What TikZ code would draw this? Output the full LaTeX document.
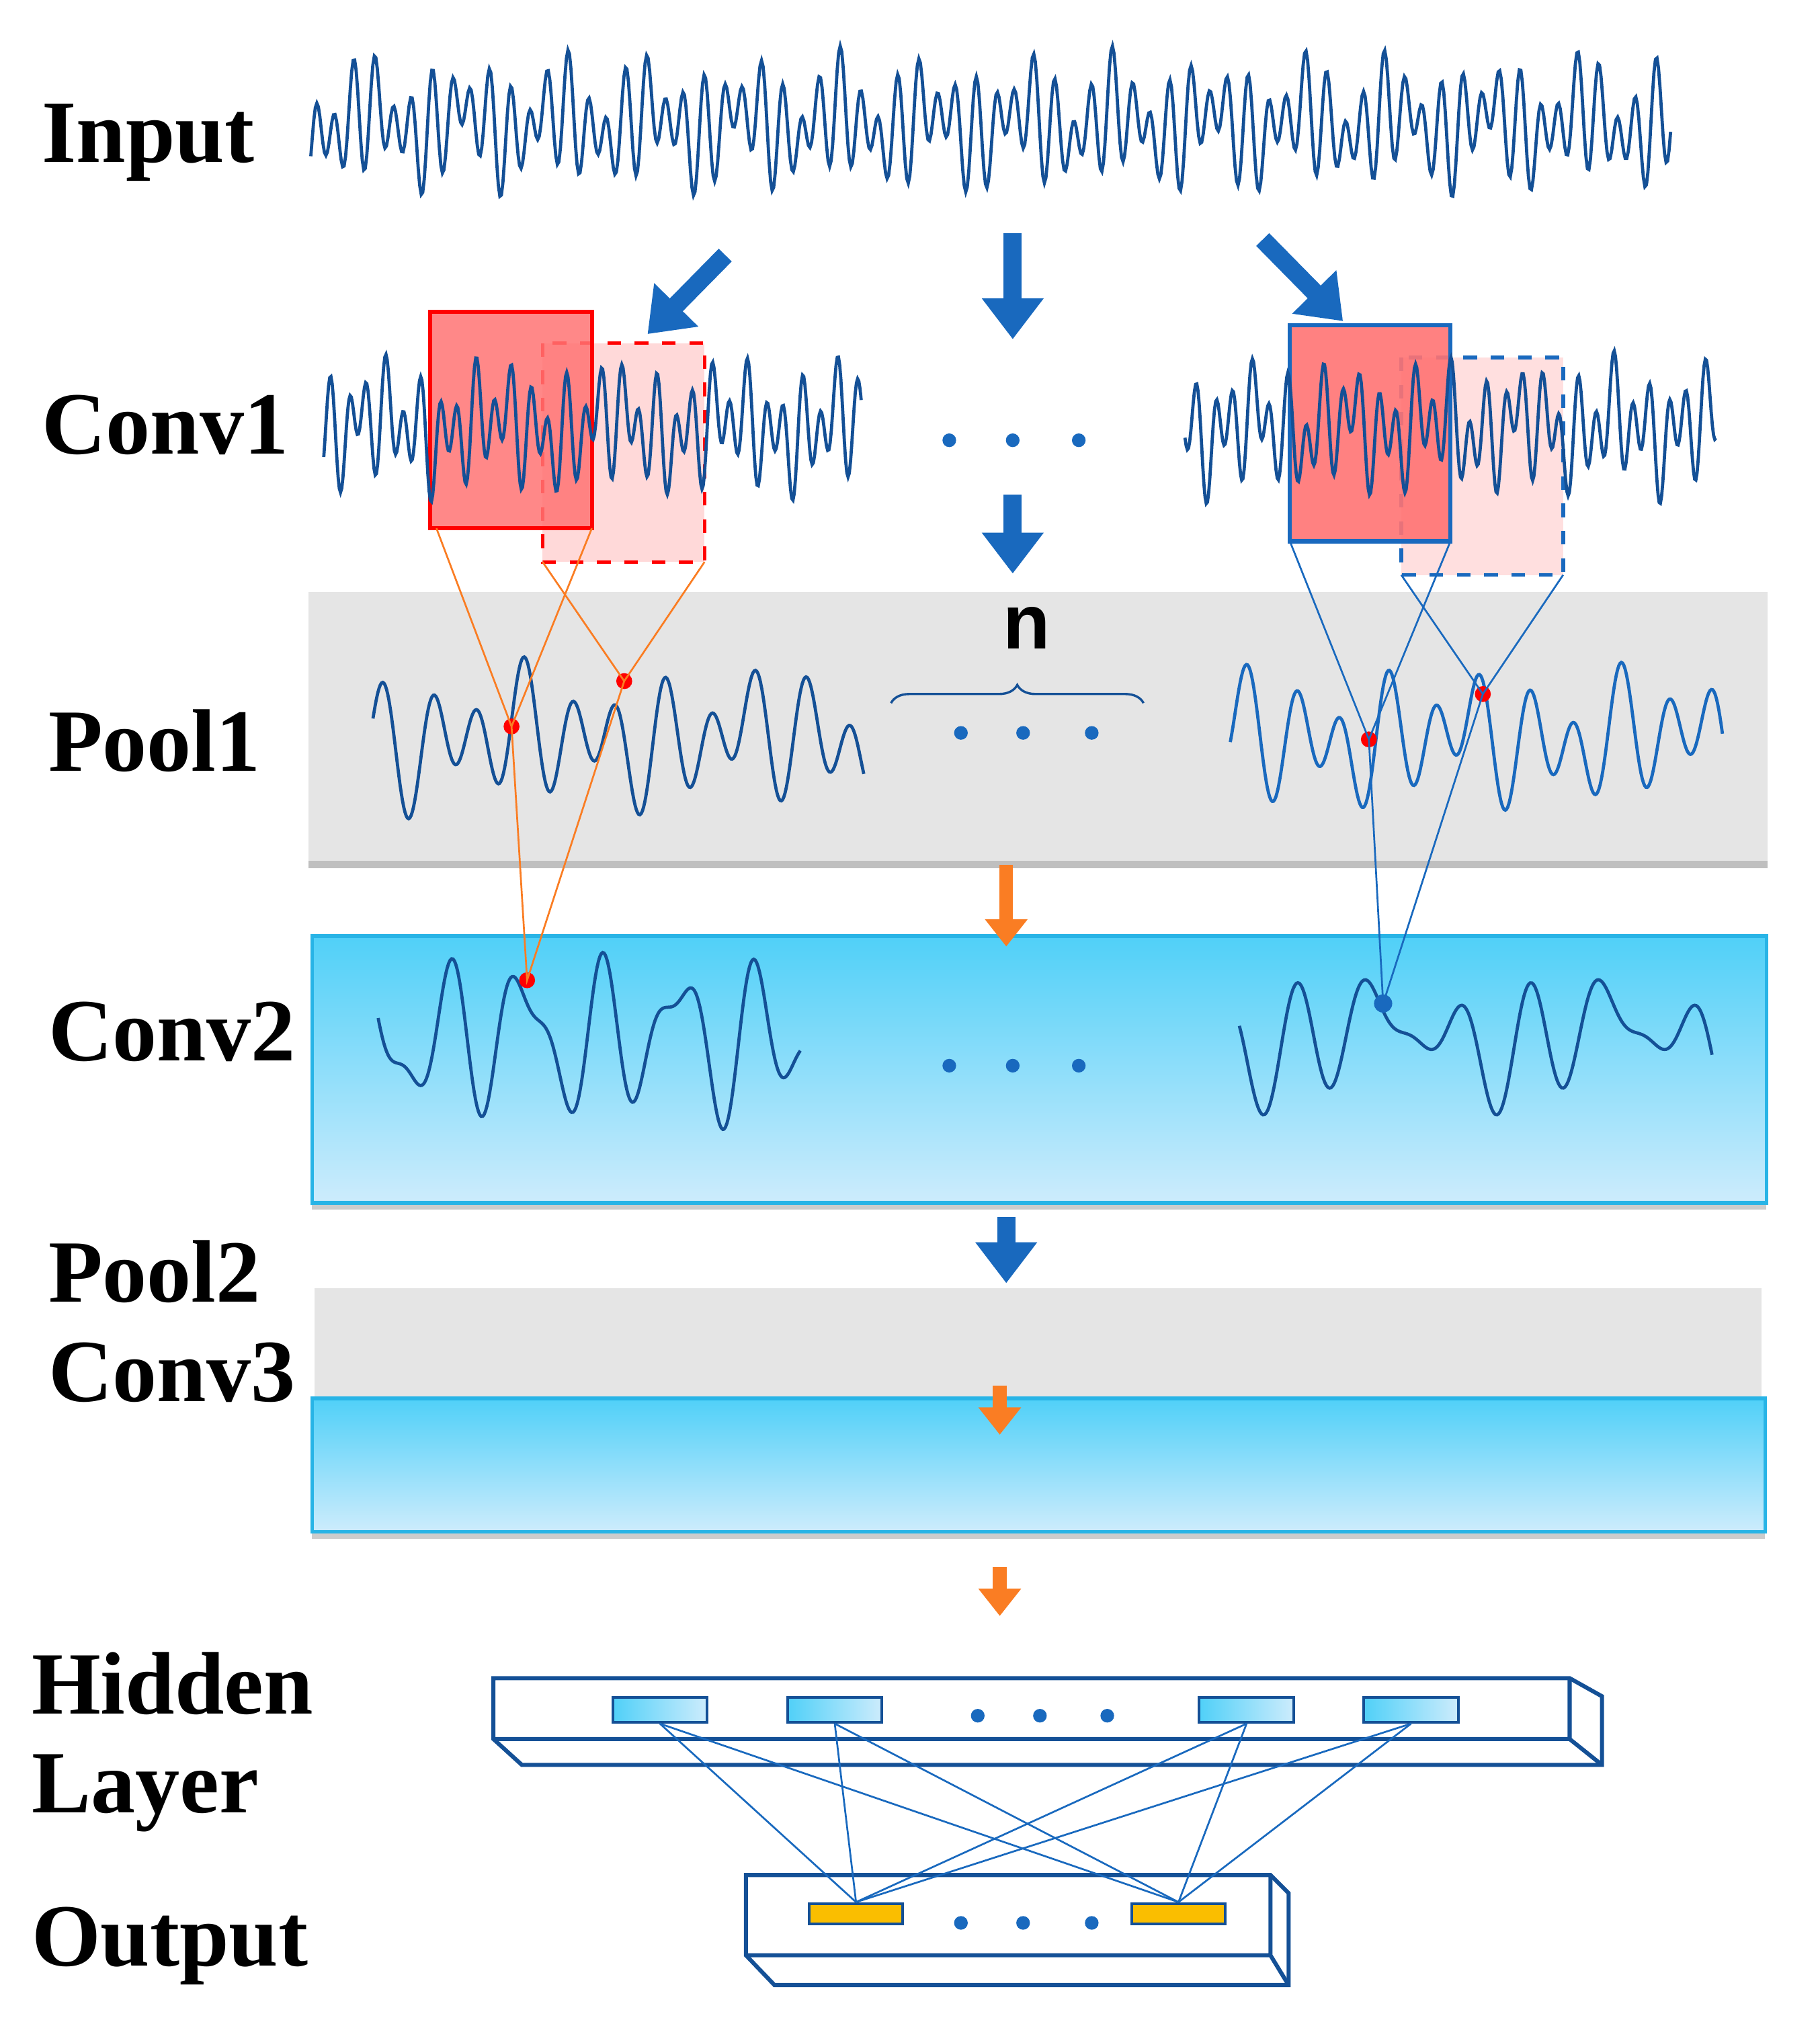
\documentclass[tikz,border=0pt]{standalone}
\usepackage{fontspec}
\setmainfont{Liberation Serif}
\newfontfamily\sansf{Liberation Sans}
\usetikzlibrary{arrows.meta,decorations.pathreplacing,shadows}
\definecolor{wblue}{RGB}{20,80,150}
\definecolor{ablue}{RGB}{25,105,190}
\definecolor{aorange}{RGB}{250,125,35}
\definecolor{cyanA}{RGB}{80,208,248}
\definecolor{cyanB}{RGB}{205,236,252}
\definecolor{cyanE}{RGB}{40,180,230}
\definecolor{ocol}{RGB}{250,190,0}
\tikzset{
 declare function={sn(\t,\p)=sin(mod(\t,\p)*(360/\p));},
 lab/.style={font=\fontsize{19.5}{22}\selectfont\bfseries, anchor=west},
 wave/.style={wblue, line width=0.7pt},
 barrow/.style={ablue, line width=4pt, -{Triangle[width=13pt,length=9pt]}},
 oarrow/.style={aorange, line width=3pt, -{Triangle[width=9pt,length=6pt]}},
 dot/.style={circle, fill=ablue, inner sep=0pt, minimum size=3pt},
 rdot/.style={circle, fill=red, inner sep=0pt, minimum size=3.5pt},
 gband/.style={fill=black!10, draw=none, drop shadow={shadow xshift=0pt,shadow yshift=-1.5pt,opacity=0.5}},
 cband/.style={top color=cyanA, bottom color=cyanB, draw=cyanE, line width=0.8pt, drop shadow={shadow xshift=0pt,shadow yshift=-1.5pt,opacity=0.4}},
 cell/.style={draw=wblue, line width=0.6pt, left color=cyanA, right color=cyanB},
 ocell/.style={draw=wblue, line width=0.6pt, fill=ocol},
 thin/.style={line width=0.4pt},
}
\begin{document}
\begin{tikzpicture}[x=0.01cm,y=-0.01cm]
\useasboundingbox (0,0) rectangle (1405,1560);
% bands
\fill[gband] (238,457) rectangle (1365,665);
\shade[cband] (241,723) rectangle (1364,929);
\fill[gband] (243,995) rectangle (1360,1083);
\shade[cband] (241,1080) rectangle (1363,1183);
% labels
\node[lab] (lin) at (20,110) {Input};
\node[lab] (lc1) at (20,328) {Conv1};
\node[lab] (lp1) at (25,572) {Pool1};
\node[lab] (lc2) at (25,797) {Conv2};
\node[lab] (lp2) at (25,982) {Pool2};
\node[lab] (lc3) at (25,1060) {Conv3};
\node[lab] (lh1) at (12,1300) {Hidden};
\node[lab] (lh2) at (12,1385) {Layer};
\node[lab] (lo) at (12,1503) {Output};
% input wave
\draw[wave] plot[domain=240:1290,samples=900] (\x,{95-30*sn(\x,15)-18*sn(\x+7,21)-12*sn(\x+20,72)});
% conv1 boxes
\fill[red!15] (419,265) rectangle (544,434);
\draw[red, line width=0.8pt, dashed] (419,265) rectangle (544,434);
\fill[red!55, opacity=0.85] (332,241) rectangle (457,408);
\draw[red, line width=0.9pt] (332,241) rectangle (457,408);
\fill[red!15, opacity=0.85] (1082,276) rectangle (1207,444);
\draw[ablue, line width=0.8pt, dashed] (1082,276) rectangle (1207,444);
\fill[red!55, opacity=0.9] (996,251) rectangle (1120,418);
\draw[ablue, line width=0.9pt] (996,251) rectangle (1120,418);
\draw[wave] plot[domain=250:665,samples=450] (\x,{330-30*sn(\x,14)-20*sn(\x+5,23)-10*sn(\x,90)});
\draw[wave] plot[domain=915:1325,samples=450] (\x,{330-30*sn(\x+3,14)-20*sn(\x+11,25)-10*sn(\x+30,70)});
% arrows
\coordinate (a1s) at (560,197); \coordinate (a1e) at (500,258);
\coordinate (a2s) at (782,180); \coordinate (a2e) at (782,262);
\coordinate (a3s) at (975,185); \coordinate (a3e) at (1037,248);
\coordinate (a4s) at (782,382); \coordinate (a4e) at (782,443);
\draw[barrow] (a1s) -- (a1e);
\draw[barrow] (a2s) -- (a2e);
\draw[barrow] (a3s) -- (a3e);
\draw[barrow] (a4s) -- (a4e);
\coordinate (o1s) at (777,668); \coordinate (o1e) at (777,731);
\coordinate (b1s) at (777,940); \coordinate (b1e) at (777,991);
\coordinate (o2s) at (772,1070); \coordinate (o2e) at (772,1108);
\coordinate (o3s) at (772,1210); \coordinate (o3e) at (772,1248);
\draw[oarrow] (o1s) -- (o1e);
\draw[barrow] (b1s) -- (b1e);
\draw[oarrow] (o2s) -- (o2e);
\draw[oarrow] (o3s) -- (o3e);
% dots
\foreach \i/\x/\y in {1/733/340,2/782/340,3/833/340,4/742/566,5/790/566,6/843/566,7/733/823,8/782/823,9/833/823}
  \node[dot] (d\i) at (\x,\y) {};
% pool1 waves
\draw[wave] plot[domain=288:667,samples=400] (\x,{570-35*sn(\x,36)-20*sn(\x+10,57)-8*sn(\x,180)});
\draw[wave, ablue] plot[domain=950:1330,samples=400] (\x,{570-35*sn(\x+17,36)-20*sn(\x+3,59)-8*sn(\x+40,160)});
\draw[decorate, decoration={brace, amplitude=4pt}, wblue, line width=0.5pt] (688,543) -- (883,543);
\node[font=\sansf\bfseries\fontsize{17}{20}\selectfont] (n) at (793,485) {n};
% conv2 waves
\draw[wave] plot[domain=292:618,samples=300] (\x,{800-45*sn(\x+30,60)-25*sn(\x,38)-8*sn(\x,120)});
\draw[wave] plot[domain=957:1322,samples=300] (\x,{800-30*sn(\x+33,60)-20*sn(\x,45)-15*sn(\x+60,180)});
% connection dots
\node[rdot] (r1) at (395,561) {};
\node[rdot] (r2) at (482,526) {};
\node[rdot] (r3) at (407,757) {};
\node[rdot] (r4) at (1057,571) {};
\node[rdot] (r5) at (1145,536) {};
\node[circle, fill=ablue, inner sep=0pt, minimum size=4pt] (r6) at (1068,775) {};
\coordinate (c1) at (337,408); \coordinate (c2) at (457,408);
\coordinate (c3) at (419,434); \coordinate (c4) at (544,434);
\coordinate (c5) at (996,418); \coordinate (c6) at (1120,418);
\coordinate (c7) at (1082,444); \coordinate (c8) at (1207,444);
\draw[aorange, thin] (c1) -- (r1.center) -- (c2) (c3) -- (r2.center) -- (c4) (r1.center) -- (r3.center) -- (r2.center);
\draw[ablue, thin] (c5) -- (r4.center) -- (c6) (c7) -- (r5.center) -- (c8) (r4.center) -- (r6.center) -- (r5.center);
% hidden layer
\draw[wblue, line width=0.9pt, fill=white] (381,1296) -- (1212,1296) -- (1237,1310) -- (1237,1363) -- (403,1363) -- (381,1343) -- cycle;
\draw[wblue, line width=0.9pt] (381,1343) -- (1212,1343) -- (1212,1296) (1212,1343) -- (1237,1363);
\foreach \i/\x in {1/472,2/607,3/925,4/1052}
  \node[cell, inner sep=0pt, anchor=north west, minimum width=0.73cm, minimum height=0.19cm] (h\i) at (\x,1310) {};
\foreach \i/\x in {10/755,11/803,12/855} \node[dot] (d\i) at (\x,1325) {};
% output
\draw[wblue, line width=0.9pt, fill=white] (576,1448) -- (981,1448) -- (995,1462) -- (995,1533) -- (598,1533) -- (576,1510) -- cycle;
\draw[wblue, line width=0.9pt] (576,1510) -- (981,1510) -- (981,1448) (981,1510) -- (995,1533);
\node[ocell, inner sep=0pt, minimum width=0.72cm, minimum height=0.16cm] (u1) at (661,1478) {};
\node[ocell, inner sep=0pt, minimum width=0.72cm, minimum height=0.16cm] (u2) at (910,1478) {};
\foreach \i/\x in {13/742,14/790,15/843} \node[dot] (d\i) at (\x,1485) {};
\foreach \h in {1,2,3,4} \foreach \o in {1,2} \draw[ablue, thin] (h\h.south) -- (u\o.north);
\end{tikzpicture}
\end{document}
